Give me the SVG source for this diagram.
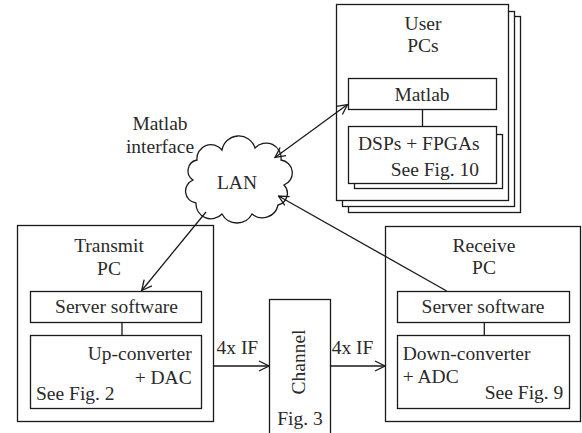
<svg xmlns="http://www.w3.org/2000/svg" width="582" height="433" viewBox="0 0 582 433">
<style>
.b{fill:#fff;stroke:#1a1a1a;stroke-width:1.3}
.l{fill:none;stroke:#1a1a1a;stroke-width:1.3}
</style>
<defs>
<marker id="a" viewBox="0 0 12 12" refX="11" refY="6" markerWidth="12" markerHeight="12" markerUnits="userSpaceOnUse" orient="auto-start-reverse">
<path d="M1,1 L11,6 L1,11" fill="none" stroke="#1a1a1a" stroke-width="1.3"/>
</marker>
</defs>
<rect width="582" height="433" fill="#fff"/>

<g id="user-pcs">
<rect class="b" x="348.5" y="16.5" width="172" height="196"/>
<rect class="b" x="342.5" y="11.5" width="172" height="195"/>
<rect class="b" x="336.5" y="4.5" width="172" height="196"/>
<text x="423" y="29.5" text-anchor="middle" style="font-family:'Liberation Serif';font-size:19.5px;fill:#2a2a2a">User</text>
<text x="423" y="51.5" text-anchor="middle" style="font-family:'Liberation Serif';font-size:19.5px;fill:#2a2a2a">PCs</text>
</g>
<g id="matlab">
<rect class="b" x="348.5" y="78.5" width="148" height="31"/>
<text x="422" y="100.5" text-anchor="middle" style="font-family:'Liberation Serif';font-size:19.5px;fill:#2a2a2a">Matlab</text>
</g>
<g id="dsps">
<rect class="b" x="354.5" y="134.5" width="148" height="54"/>
<rect class="b" x="348.5" y="126.5" width="148" height="57"/>
<text x="358" y="150" style="font-family:'Liberation Serif';font-size:19.5px;fill:#2a2a2a">DSPs + FPGAs</text>
<text x="479" y="176" text-anchor="end" style="font-family:'Liberation Serif';font-size:19.5px;fill:#2a2a2a">See Fig. 10</text>
</g>

<g id="lan">
<path class="b" d="M197,160 A14,14 0 0 1 222,150 A17,17 0 0 1 255,148 A15,15 0 0 1 281,160 A13,13 0 0 1 284,185 A12,12 0 0 1 278,205 A16,16 0 0 1 252,214 A17,17 0 0 1 222,214 A15,15 0 0 1 196,203 A12,12 0 0 1 193,180 A11,11 0 0 1 197,160 Z"/>
<text x="237" y="189" text-anchor="middle" style="font-family:'Liberation Serif';font-size:19.5px;fill:#2a2a2a">LAN</text>
</g>
<g id="matlab-interface-label">
<text x="160" y="130" text-anchor="middle" style="font-family:'Liberation Serif';font-size:19.5px;fill:#2a2a2a">Matlab</text>
<text x="160" y="152.5" text-anchor="middle" style="font-family:'Liberation Serif';font-size:19.5px;fill:#2a2a2a">interface</text>
</g>

<g id="transmit-pc">
<rect class="b" x="17.5" y="225.5" width="196" height="196"/>
<text x="109" y="252.3" text-anchor="middle" style="font-family:'Liberation Serif';font-size:19.5px;fill:#2a2a2a">Transmit</text>
<text x="109" y="275" text-anchor="middle" style="font-family:'Liberation Serif';font-size:19.5px;fill:#2a2a2a">PC</text>
</g>
<g id="tx-server">
<rect class="b" x="30.5" y="291.5" width="171" height="31"/>
<text x="116.5" y="313.3" text-anchor="middle" style="font-family:'Liberation Serif';font-size:19.5px;fill:#2a2a2a">Server software</text>
</g>
<g id="upconverter">
<rect class="b" x="30.5" y="335.5" width="171" height="73"/>
<text x="191.7" y="360" text-anchor="end" style="font-family:'Liberation Serif';font-size:19.5px;fill:#2a2a2a">Up-converter</text>
<text x="191.7" y="384" text-anchor="end" style="font-family:'Liberation Serif';font-size:19.5px;fill:#2a2a2a">+ DAC</text>
<text x="36" y="400" style="font-family:'Liberation Serif';font-size:19.5px;fill:#2a2a2a">See Fig. 2</text>
</g>

<g id="channel">
<rect class="b" x="269.5" y="299.5" width="61" height="150"/>
<text transform="translate(305,362) rotate(-90)" text-anchor="middle" style="font-family:'Liberation Serif';font-size:19.5px;fill:#2a2a2a">Channel</text>
<text x="300" y="425" text-anchor="middle" style="font-family:'Liberation Serif';font-size:19.5px;fill:#2a2a2a">Fig. 3</text>
</g>

<g id="receive-pc">
<rect class="b" x="385.5" y="226.5" width="195" height="195"/>
<text x="484" y="251.7" text-anchor="middle" style="font-family:'Liberation Serif';font-size:19.5px;fill:#2a2a2a">Receive</text>
<text x="484" y="273.5" text-anchor="middle" style="font-family:'Liberation Serif';font-size:19.5px;fill:#2a2a2a">PC</text>
</g>
<g id="rx-server">
<rect class="b" x="397.5" y="291.5" width="172" height="31"/>
<text x="483" y="313.3" text-anchor="middle" style="font-family:'Liberation Serif';font-size:19.5px;fill:#2a2a2a">Server software</text>
</g>
<g id="downconverter">
<rect class="b" x="397.5" y="335.5" width="172" height="73"/>
<text x="402.7" y="360" style="font-family:'Liberation Serif';font-size:19.5px;fill:#2a2a2a">Down-converter</text>
<text x="402.7" y="383.3" style="font-family:'Liberation Serif';font-size:19.5px;fill:#2a2a2a">+ ADC</text>
<text x="563.3" y="399.3" text-anchor="end" style="font-family:'Liberation Serif';font-size:19.5px;fill:#2a2a2a">See Fig. 9</text>
</g>

<g id="connectors">
<line class="l" x1="422.5" y1="110" x2="422.5" y2="126.5"/>
<line class="l" x1="122" y1="322.5" x2="122" y2="335.5"/>
<line class="l" x1="484.3" y1="322.5" x2="484.3" y2="335.5"/>
<line class="l" x1="275" y1="157.5" x2="347.5" y2="104.5" marker-start="url(#a)" marker-end="url(#a)"/>
<line class="l" x1="206" y1="212" x2="141.7" y2="290.5" marker-end="url(#a)"/>
<line class="l" x1="446.7" y1="291" x2="278.5" y2="196" marker-end="url(#a)"/>
<line class="l" x1="213.5" y1="366" x2="269" y2="366" marker-end="url(#a)"/>
<line class="l" x1="330.5" y1="366" x2="385" y2="366" marker-end="url(#a)"/>
<text x="216.5" y="354.3" style="font-family:'Liberation Serif';font-size:19.5px;fill:#2a2a2a">4x IF</text>
<text x="331.7" y="354.3" style="font-family:'Liberation Serif';font-size:19.5px;fill:#2a2a2a">4x IF</text>
</g>
</svg>
